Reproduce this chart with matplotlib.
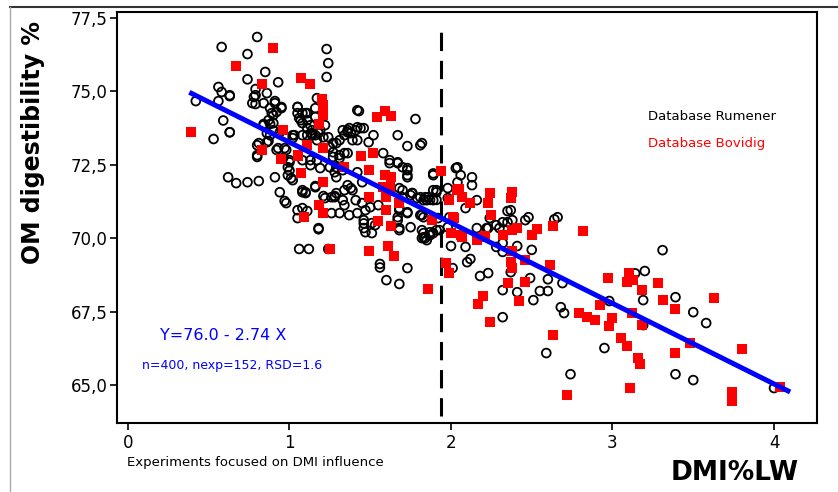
import numpy as np
import matplotlib
matplotlib.use('Agg')
import matplotlib.pyplot as plt
from matplotlib.lines import Line2D

# Database Rumener (open black circles)
rumener_dmi = [
    0.80, 0.58, 0.74, 1.23, 1.24, 1.23, 0.85, 0.74, 0.93, 0.56, 0.58, 0.63, 0.42, 0.56,
    0.79, 0.78, 0.86, 0.79, 0.59, 0.63, 0.53, 0.91, 0.95, 0.88, 0.90, 0.84, 0.88, 1.05,
    1.10, 1.06, 1.17, 1.16, 1.11, 1.02, 1.08, 1.14, 1.17, 1.27, 0.87, 0.81, 0.80, 0.93,
    0.98, 1.00, 1.13, 1.28, 0.62, 0.67, 0.74, 0.81, 1.43, 1.78, 1.67, 1.73, 1.06, 1.12,
    1.56, 1.56, 1.60, 1.68, 1.73, 1.18, 0.91, 0.94, 0.97, 0.98, 1.00, 0.99, 1.01, 1.08,
    1.10, 1.05, 1.11, 1.16, 1.21, 1.28, 1.26, 1.31, 1.24, 1.36, 1.38, 1.34, 1.39, 1.44,
    1.29, 1.81, 2.03, 2.13, 2.13, 2.04, 1.98, 1.89, 1.91, 1.91, 1.62, 1.73, 1.73, 1.68,
    1.84, 1.87, 1.81, 1.83, 1.68, 1.67, 1.46, 1.47, 1.53, 1.33, 1.29, 1.26, 1.39, 1.37,
    1.42, 1.75, 1.91, 1.87, 2.16, 2.23, 1.98, 1.99, 1.05, 1.08, 1.13, 1.03, 1.11, 1.16,
    1.02, 1.14, 1.19, 1.22, 1.31, 1.33, 1.37, 1.42, 1.42, 1.34, 1.31, 1.27, 1.46, 1.49,
    1.52, 1.82, 1.58, 1.67, 1.70, 1.17, 1.19, 1.25, 1.29, 1.33, 1.02, 1.08, 1.10, 1.16,
    1.36, 1.38, 1.34, 1.42, 1.45, 1.22, 1.28, 1.41, 1.45, 1.34, 1.47, 1.50, 1.55, 1.08,
    1.05, 1.18, 1.46, 1.51, 1.46, 1.51, 1.62, 1.76, 1.70, 1.79, 1.83, 1.85, 1.89, 1.67,
    1.73, 1.75, 1.68, 1.83, 1.89, 1.98, 1.89, 2.09, 2.28, 2.37, 2.38, 2.32, 2.48, 2.66,
    2.00, 2.09, 2.10, 2.12, 2.23, 2.18, 2.01, 2.32, 2.41, 2.32, 2.50, 2.32, 2.41, 2.51,
    2.55, 2.60, 2.60, 2.32, 1.82, 1.84, 1.85, 1.93, 2.37, 2.49, 2.69, 2.68, 2.70, 2.59,
    2.74, 2.95, 2.98, 3.20, 3.19, 3.19, 3.31, 3.39, 3.39, 3.50, 3.50, 3.58, 4.00, 3.14,
    2.64, 2.35, 2.46, 2.22, 2.28,
    1.67, 1.73, 1.73, 2.04, 2.06, 1.70, 1.76, 1.81, 1.86, 1.89, 1.91, 1.68, 1.73, 1.82,
    1.92, 1.83, 1.87, 1.82, 1.68, 2.16, 2.24, 2.30, 2.35,
    0.79, 0.77, 0.84, 0.91, 0.95, 0.92, 0.89, 0.87, 0.90, 0.84, 1.05, 1.08, 1.11, 1.07,
    1.11, 1.16, 0.86, 0.90, 0.94, 0.88, 1.14, 1.18, 1.21, 1.24, 0.86, 0.80, 0.80, 0.92,
    0.97, 0.96, 1.00, 0.99, 1.08, 1.13, 1.25, 1.27, 1.31, 1.29, 1.36, 1.36, 1.41, 1.42,
    0.63, 0.63,
]
rumener_omd = [
    76.84, 76.50, 76.26, 76.43, 75.95, 75.48, 75.65, 75.40, 75.30, 75.14, 74.97, 74.83, 74.66, 74.66,
    75.07, 74.80, 74.93, 74.56, 74.00, 73.60, 73.37, 74.66, 74.42, 74.42, 74.18, 73.88, 73.88, 74.46,
    74.25, 74.08, 74.76, 74.42, 73.74, 73.50, 73.50, 73.57, 73.33, 73.23, 73.30, 73.23, 72.76, 73.06,
    73.00, 72.58, 72.48, 72.24, 72.07, 71.87, 71.90, 71.94, 74.32, 74.05, 73.50, 73.13, 69.63, 69.63,
    69.12, 69.00, 68.57, 68.44, 68.98, 70.30, 72.07, 71.56, 71.26, 71.19, 72.30, 72.14, 72.04, 71.56,
    71.56, 70.95, 70.92, 71.77, 71.43, 71.43, 70.85, 70.85, 69.63, 73.67, 73.57, 73.50, 73.33, 73.74,
    73.23, 73.16, 72.38, 72.07, 71.80, 71.90, 71.70, 72.20, 71.63, 71.30, 72.55, 72.31, 72.07, 71.70,
    71.39, 71.30, 70.78, 70.71, 70.95, 70.71, 70.50, 70.20, 70.44, 71.29, 71.53, 71.39, 71.63, 70.78,
    70.85, 71.46, 70.27, 70.20, 70.34, 70.34, 71.36, 70.71, 74.25, 73.91, 73.84, 73.50, 73.50, 73.50,
    73.40, 73.67, 73.67, 73.84, 73.33, 73.67, 73.74, 73.77, 73.33, 72.89, 72.82, 72.76, 73.74, 73.26,
    73.50, 73.23, 72.89, 72.58, 72.41, 72.65, 72.38, 72.41, 72.07, 72.31, 71.97, 71.63, 71.53, 71.73,
    71.80, 71.70, 71.63, 72.24, 71.90, 71.36, 71.39, 71.29, 71.19, 71.12, 70.95, 71.05, 71.12, 71.02,
    70.68, 70.34, 70.61, 70.51, 70.34, 70.17, 72.65, 71.53, 71.39, 71.36, 71.29, 71.29, 71.63, 70.61,
    70.85, 70.37, 70.34, 70.17, 70.17, 70.37, 72.14, 71.02, 70.44, 70.95, 70.61, 70.54, 70.71, 70.71,
    69.73, 69.70, 69.18, 69.29, 68.81, 68.71, 68.98, 69.83, 69.73, 69.53, 69.60, 68.23, 68.16, 67.89,
    68.20, 68.20, 68.60, 67.31, 70.27, 70.00, 69.93, 70.27, 68.84, 68.64, 68.47, 67.65, 67.45, 66.09,
    65.37, 66.26, 67.86, 68.88, 67.89, 67.04, 69.59, 67.99, 65.37, 67.48, 65.17, 67.11, 64.90, 68.80,
    70.64, 70.92, 70.61, 70.34, 69.70,
    72.55, 72.38, 72.14, 72.41, 72.14, 71.63, 71.53, 71.39, 71.39, 71.29, 71.56, 71.02, 70.88, 70.78,
    70.68, 70.03, 70.10, 70.00, 70.27, 71.29, 70.68, 70.34, 70.54,
    74.86, 74.59, 74.59, 74.59, 74.46, 74.29, 74.25, 74.01, 73.91, 73.84, 74.46, 74.25, 74.25, 74.01,
    74.01, 74.12, 73.57, 73.67, 73.60, 73.50, 73.50, 73.57, 73.43, 73.43, 73.26, 73.16, 72.82, 73.00,
    73.06, 72.72, 72.65, 72.41, 72.65, 72.65, 73.09, 72.92, 72.72, 72.41, 72.89, 73.60, 73.67, 74.35,
    74.86, 73.60,
]

# Database Bovidig (red squares)
bovidig_dmi = [
    0.90, 0.67, 1.07, 1.13, 0.83, 1.20, 1.21, 1.21, 1.18, 0.39, 0.96, 0.83, 1.11, 1.21,
    0.95, 1.05, 1.07, 1.54, 1.59, 1.63, 1.44, 1.52, 1.49, 1.34, 1.21, 1.18, 1.21, 1.09,
    1.49, 1.55, 1.63, 1.59, 1.63, 1.58, 1.62, 1.60, 1.68, 1.60, 1.05, 1.25, 1.49, 1.61,
    1.65, 1.94, 2.05, 1.99, 2.07, 2.12, 2.24, 2.23, 2.25, 2.02, 1.88, 2.00, 2.07, 2.20,
    2.38, 2.37, 2.41, 2.38, 2.32, 2.53, 2.50, 2.63, 2.21, 2.16, 2.38, 2.46, 2.37, 2.38,
    2.61, 2.46, 2.35, 2.20, 2.17, 2.42, 2.24, 1.86, 1.97, 1.99, 2.82, 2.63, 2.72, 2.79,
    2.84, 2.89, 2.92, 2.97, 3.00, 2.98, 3.05, 3.09, 3.10, 3.09, 3.13, 3.18, 3.12, 3.18,
    3.16, 3.17, 3.11, 3.28, 3.31, 3.39, 3.39, 3.48, 3.63, 3.80, 3.74, 3.74, 4.04, 2.04,
    2.01, 2.06,
]
bovidig_omd = [
    76.46, 75.85, 75.44, 75.24, 75.24, 74.73, 74.52, 74.18, 73.88, 73.60, 73.67, 73.00, 73.16, 73.06,
    72.69, 72.79, 72.20, 74.12, 74.32, 74.15, 72.79, 72.90, 72.31, 72.42, 71.90, 71.12, 70.85, 70.71,
    71.39, 70.58, 70.40, 72.14, 72.07, 71.73, 71.73, 71.39, 71.19, 70.95, 72.82, 69.63, 69.56, 69.73,
    69.39, 72.28, 71.67, 71.29, 71.39, 71.19, 71.53, 71.19, 70.78, 70.68, 70.61, 70.17, 70.03, 70.03,
    71.56, 71.36, 70.34, 70.27, 70.10, 70.30, 70.10, 70.41, 70.07, 69.93, 69.56, 69.25, 69.18, 68.98,
    69.08, 68.50, 68.47, 68.03, 67.75, 67.86, 67.14, 68.27, 69.15, 68.81, 70.24, 66.70, 64.66, 67.45,
    67.31, 67.21, 67.72, 68.64, 67.28, 67.00, 66.60, 66.33, 68.81, 68.50, 68.57, 68.23, 67.45, 67.04,
    65.92, 65.71, 64.90, 68.47, 67.89, 67.59, 66.09, 66.43, 67.96, 66.22, 64.76, 64.46, 64.93, 71.63,
    70.71, 70.10,
]

# fitted regression and split between the two kinds of experiments
fit_intercept = 76.0
fit_slope = -2.74
fit_range = [0.38, 4.10]
dmi_split = 1.94

x_ticks = [0, 1, 2, 3, 4]
y_ticks = [65.0, 67.5, 70.0, 72.5, 75.0, 77.5]
y_tick_labels = ['65,0', '67,5', '70,0', '72,5', '75,0', '77,5']

fig = plt.figure(figsize=(8.38, 4.92), dpi=100)
ax = fig.add_axes([0.1396, 0.1402, 0.8353, 0.8354])

ax.scatter(rumener_dmi, rumener_omd, s=40, facecolors='none', edgecolors='black', linewidths=1.3, zorder=2)
ax.scatter(bovidig_dmi, bovidig_omd, s=60, marker='s', color='#ff0000', linewidths=0, zorder=3)

# regression line
fx = np.array(fit_range)
ax.plot(fx, fit_intercept + fit_slope * fx, color='#0000ff', lw=3.6, solid_capstyle='butt', zorder=4)

# dashed split line
ax.plot([dmi_split, dmi_split], [63.95, 77.3], color='black', lw=2.2, linestyle=(0, (6, 3.2)), zorder=1)

ax.set_xlim(-0.068, 4.266)
ax.set_ylim(63.71, 77.69)
ax.set_xticks(x_ticks)
ax.set_yticks(y_ticks)
ax.set_yticklabels(y_tick_labels)
ax.tick_params(axis='both', direction='out', length=5, width=1.2, labelsize=12, colors='black')
ax.tick_params(axis='y', pad=2)
ax.tick_params(axis='x', pad=3)
for sp in ax.spines.values():
    sp.set_linewidth(1.5)

ax.text(0.759, 0.745, 'Database Rumener', transform=ax.transAxes, fontsize=9.5, color='black', va='center')
ax.text(0.759, 0.681, 'Database Bovidig', transform=ax.transAxes, fontsize=9.5, color='#ff0000', va='center')
ax.text(0.061, 0.214, 'Y=76.0 - 2.74 X', transform=ax.transAxes, fontsize=11.5, color='#0000ff', va='center')
ax.text(0.036, 0.141, 'n=400, nexp=152, RSD=1.6', transform=ax.transAxes, fontsize=9, color='#0000ff', va='center')

fig.text(0.039, 0.711, 'OM digestibility %', rotation=90, fontsize=17, fontweight='bold', ha='center', va='center')
fig.text(0.877, 0.0386, 'DMI%LW', fontsize=19, fontweight='bold', ha='center', va='center')
fig.text(0.1516, 0.059, 'Experiments focused on DMI influence', fontsize=9.5, ha='left', va='center')

# outer frame lines
fig.add_artist(Line2D([0.012, 1.0], [0.986, 0.986], color='#333333', lw=1.5))
fig.add_artist(Line2D([0.0125, 0.0125], [0.0, 0.986], color='#aaaaaa', lw=1.0))

fig.savefig('out.png', dpi=100)
